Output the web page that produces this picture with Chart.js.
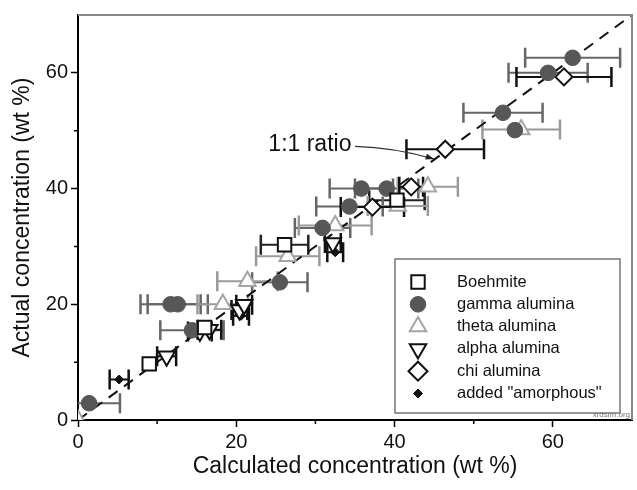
<!DOCTYPE html>
<html>
<head>
<meta charset="utf-8">
<script src="https://cdn.jsdelivr.net/npm/chart.js@4.4.0/dist/chart.umd.min.js"></script>
<style>
  html, body { margin: 0; padding: 0; background: #fff; }
  #chartContainer { width: 637px; height: 490px; }
</style>
</head>
<body>
<div id="chartContainer"><canvas id="chart" width="637" height="490"></canvas></div>
<script>
// values (wt %)
const boehmiteX = [9.0, 26.1, 40.3, 16.0];
const boehmiteY = [9.7, 30.3, 38.0, 16.0];
const boehmiteErr = [0, 3.0, 3.5, 0];

const gammaX = [1.4, 11.7, 12.6, 14.4, 25.5, 30.9, 34.3, 35.8, 39.0, 53.7, 55.2, 59.4, 62.5];
const gammaY = [2.9, 20.0, 20.0, 15.5, 23.8, 33.2, 36.9, 40.0, 40.0, 53.1, 50.1, 60.0, 62.6];
const gammaErr = [3.9, 3.8, 3.8, 4.0, 3.5, 3.5, 4.2, 4.0, 4.0, 5.0, 0, 5.0, 6.0];

const thetaX = [0, 18.3, 21.4, 26.5, 32.5, 40.4, 44.2, 56.0];
const thetaY = [0, 20.0, 24.0, 28.3, 33.6, 37.0, 40.3, 50.2];
const thetaErr = [0, 3.2, 3.8, 4.0, 4.6, 3.8, 3.8, 4.9];

const alphaX = [11.2, 15.4, 16.6, 20.4, 21.0, 32.2];
const alphaY = [11.0, 15.3, 15.6, 19.0, 19.9, 30.6];
const alphaErr = [1.2, 1.5, 1.5, 1.0, 1.0, 1.0];

const chiX = [37.2, 42.1, 46.4, 61.4];
const chiY = [36.8, 40.3, 46.8, 59.3];
const chiErr = [4.0, 1.5, 4.9, 6.0];

const amorphX = [0, 5.2, 20.6, 32.5, 42.0];
const amorphY = [0, 7.0, 18.0, 29.0, 40.0];
const amorphErr = [0, 1.2, 1.0, 1.0, 0];

const ratioLine = [0, 70];
const majorTicks = [0, 20, 40, 60];
const minorTicks = [10, 30, 50];

const FONT = 'Arial, "Liberation Sans", sans-serif';

const pts = (xs, ys) => xs.map((v, i) => ({ x: v, y: ys[i] }));

const errorBars = {
  id: 'errorBars',
  beforeDatasetsDraw(chart) {
    const { ctx, chartArea, scales: { x, y } } = chart;
    ctx.save();
    ctx.beginPath();
    ctx.rect(chartArea.left, chartArea.top, chartArea.right - chartArea.left, chartArea.bottom - chartArea.top);
    ctx.clip();
    chart.data.datasets.forEach((ds) => {
      if (!ds.xErr) return;
      ctx.strokeStyle = ds.errColor;
      ds.data.forEach((p, j) => {
        const e = ds.xErr[j];
        if (!e) return;
        const x0 = x.getPixelForValue(p.x - e);
        const x1 = x.getPixelForValue(p.x + e);
        const py = y.getPixelForValue(p.y);
        ctx.lineWidth = 2;
        ctx.beginPath();
        ctx.moveTo(x0, py);
        ctx.lineTo(x1, py);
        ctx.stroke();
        ctx.lineWidth = 2.5;
        ctx.beginPath();
        ctx.moveTo(x0, py - 10);
        ctx.lineTo(x0, py + 10);
        ctx.moveTo(x1, py - 10);
        ctx.lineTo(x1, py + 10);
        ctx.stroke();
      });
    });
    ctx.restore();
  },
};

const frame = {
  id: 'frame',
  afterDraw(chart) {
    const { ctx, chartArea: a, scales: { x, y } } = chart;
    ctx.save();
    // top and right border
    ctx.strokeStyle = '#888';
    ctx.lineWidth = 2;
    ctx.beginPath();
    ctx.moveTo(a.left, a.top);
    ctx.lineTo(a.right, a.top);
    ctx.lineTo(a.right, a.bottom);
    ctx.stroke();
    // minor ticks
    ctx.strokeStyle = '#000';
    ctx.lineWidth = 1.5;
    ctx.beginPath();
    minorTicks.forEach((v) => {
      const px = x.getPixelForValue(v);
      ctx.moveTo(px, a.bottom);
      ctx.lineTo(px, a.bottom + 4);
      const py = y.getPixelForValue(v);
      ctx.moveTo(a.left, py);
      ctx.lineTo(a.left - 4, py);
    });
    ctx.stroke();

    // annotation
    const tx = x.getPixelForValue(29.3);
    const ty = y.getPixelForValue(47.6);
    ctx.fillStyle = '#111';
    ctx.font = '23px ' + FONT;
    ctx.textAlign = 'center';
    ctx.textBaseline = 'middle';
    ctx.fillText('1:1 ratio', tx, ty);
    const ax0 = x.getPixelForValue(35.0), ay0 = y.getPixelForValue(47.3);
    const ax1 = x.getPixelForValue(45.0), ay1 = y.getPixelForValue(45.1);
    ctx.strokeStyle = '#333';
    ctx.lineWidth = 1.2;
    ctx.beginPath();
    ctx.moveTo(ax0, ay0);
    ctx.quadraticCurveTo((ax0 + ax1) / 2, ay0 + 1, ax1, ay1);
    ctx.stroke();
    const ang = Math.atan2(ay1 - ay0 - 1, ax1 - (ax0 + ax1) / 2);
    ctx.fillStyle = '#222';
    ctx.beginPath();
    ctx.moveTo(ax1, ay1);
    ctx.lineTo(ax1 - 9 * Math.cos(ang - 0.35), ay1 - 9 * Math.sin(ang - 0.35));
    ctx.lineTo(ax1 - 9 * Math.cos(ang + 0.35), ay1 - 9 * Math.sin(ang + 0.35));
    ctx.closePath();
    ctx.fill();

    // legend box
    const bl = a.right - 237, bt = a.bottom - 161, bw = 225, bh = 154;
    ctx.fillStyle = '#fff';
    ctx.fillRect(bl, bt, bw, bh);
    ctx.strokeStyle = '#777';
    ctx.lineWidth = 1.5;
    ctx.strokeRect(bl, bt, bw, bh);
    ctx.font = '16.5px ' + FONT;
    ctx.textAlign = 'left';
    chart.data.datasets.forEach((ds, i) => {
      if (!ds.xErr) return;
      const ry = bt + 23 + i * 22.3;
      ctx.fillStyle = ds.backgroundColor;
      ctx.strokeStyle = ds.borderColor;
      ctx.lineWidth = ds.borderWidth;
      Chart.helpers.drawPoint(ctx, {
        pointStyle: ds.pointStyle,
        radius: ds.legendRadius || ds.pointRadius,
        rotation: ds.rotation || 0,
        borderWidth: ds.borderWidth,
      }, bl + 23, ry);
      ctx.fillStyle = '#111';
      ctx.fillText(ds.label, bl + 62, ry);
    });

    // watermark
    ctx.font = '8px ' + FONT;
    ctx.fillStyle = '#777';
    ctx.textAlign = 'right';
    ctx.fillText('xrdsim.org', a.right - 2, a.bottom - 5);
    ctx.restore();
  },
};

const series = (label, xs, ys, err, opts) => Object.assign({
  label,
  data: pts(xs, ys),
  xErr: err,
  showLine: false,
  borderWidth: 2,
}, opts);

new Chart('chart', {
  type: 'scatter',
  data: {
    datasets: [
      series('Boehmite', boehmiteX, boehmiteY, boehmiteErr, {
        pointStyle: 'rect', pointRadius: 9.5, backgroundColor: '#fff', borderColor: '#111', errColor: '#222',
      }),
      series('gamma alumina', gammaX, gammaY, gammaErr, {
        pointStyle: 'circle', pointRadius: 7.8, backgroundColor: '#575757', borderColor: '#575757', borderWidth: 1, errColor: '#666',
      }),
      series('theta alumina', thetaX, thetaY, thetaErr, {
        pointStyle: 'triangle', pointRadius: 9.5, backgroundColor: '#fff', borderColor: '#a5a5a5', errColor: '#9a9a9a',
      }),
      series('alpha alumina', alphaX, alphaY, alphaErr, {
        pointStyle: 'triangle', pointRadius: 9.5, rotation: 180, backgroundColor: '#fff', borderColor: '#111', errColor: '#111',
      }),
      series('chi alumina', chiX, chiY, chiErr, {
        pointStyle: 'rectRot', pointRadius: 8.5, legendRadius: 9.5, backgroundColor: '#fff', borderColor: '#111', errColor: '#111',
      }),
      series('added "amorphous"', amorphX, amorphY, amorphErr, {
        pointStyle: 'rectRot', pointRadius: 4.5, backgroundColor: '#111', borderColor: '#111', borderWidth: 1, errColor: '#111',
      }),
      {
        label: '1:1',
        type: 'line',
        data: pts(ratioLine, ratioLine),
        borderColor: '#111',
        borderWidth: 2,
        borderDash: [11, 8],
        pointRadius: 0,
        fill: false,
      },
    ],
  },
  options: {
    responsive: false,
    animation: false,
    devicePixelRatio: 1,
    layout: { autoPadding: false, padding: { top: 10, right: 5, left: 0, bottom: 0 } },
    plugins: {
      legend: { display: false },
      tooltip: { enabled: false },
    },
    scales: {
      x: {
        type: 'linear',
        min: 0,
        max: 70,
        afterBuildTicks: (s) => { s.ticks = majorTicks.map((v) => ({ value: v })); },
        afterFit: (s) => { s.height = 70; },
        grid: { drawOnChartArea: false, drawTicks: true, tickLength: 7, tickColor: '#000', tickWidth: 1.5 },
        border: { color: '#000', width: 2 },
        ticks: { color: '#111', font: { family: FONT, size: 20 }, padding: 3, maxRotation: 0 },
        title: {
          display: true,
          text: 'Calculated concentration (wt %)',
          color: '#111',
          font: { family: FONT, size: 23 },
          padding: { top: 0, bottom: 10 },
        },
      },
      y: {
        type: 'linear',
        min: 0,
        max: 70,
        afterBuildTicks: (s) => { s.ticks = majorTicks.map((v) => ({ value: v })); },
        afterFit: (s) => { s.width = 78; },
        grid: { drawOnChartArea: false, drawTicks: true, tickLength: 7, tickColor: '#000', tickWidth: 1.5 },
        border: { color: '#000', width: 2 },
        ticks: { color: '#111', font: { family: FONT, size: 20 }, padding: 3 },
        title: {
          display: true,
          text: 'Actual concentration (wt %)',
          color: '#111',
          font: { family: FONT, size: 23 },
          padding: { top: 9, bottom: 0 },
        },
      },
    },
  },
  plugins: [errorBars, frame],
});
</script>
</body>
</html>
